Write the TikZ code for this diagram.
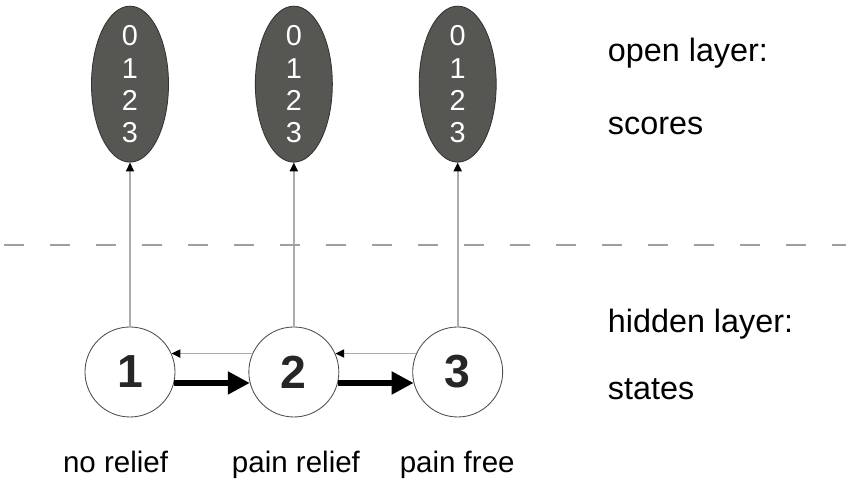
\documentclass[tikz,border=0pt]{standalone}
\usepackage{fontspec}
\setmainfont{Liberation Sans}
\usetikzlibrary{positioning,arrows.meta,shapes.geometric}

\definecolor{scorefill}{RGB}{86,86,82}

\begin{document}
\begin{tikzpicture}[
  every node/.style={font=\fontsize{23}{26}\selectfont},
  state/.style={circle, draw=black!70, line width=0.6pt, fill=white,
    minimum size=2.25cm, inner sep=0pt, font=\fontsize{33}{36}\selectfont\bfseries, text=black!85},
  score/.style={ellipse, draw=black!80, line width=0.6pt, fill=scorefill,
    minimum width=1.925cm, minimum height=3.9cm, inner sep=0pt},
  digits/.style={align=center, text=white, font=\fontsize{20.5}{22.8}\selectfont},
  emit/.style={-{Triangle[length=0.22cm, width=0.2cm, color=black]}, gray!65, line width=1.3pt},
  back/.style={-{Triangle[length=0.22cm, width=0.2cm, color=black]}, gray!65, line width=1.3pt},
  fwd/.style={-{Triangle[length=0.55cm, width=0.55cm]}, black, line width=3.6pt},
  caption/.style={anchor=base, font=\fontsize{21}{24}\selectfont},
  layer/.style={anchor=base west}
]
\useasboundingbox (0,0) rectangle (21.15,12.05);

% Hidden states
\node[state] (s1) at (3.25,2.75) {1};
\node[state, right=1.825cm of s1] (s2) {2};
\node[state, right=1.825cm of s2] (s3) {3};

% Observed scores
\node[score, above=4.1cm of s1, label={[digits]center:0\\1\\2\\3}] (o1) {};
\node[score, above=4.1cm of s2, label={[digits]center:0\\1\\2\\3}] (o2) {};
\node[score, above=4.1cm of s3, label={[digits]center:0\\1\\2\\3}] (o3) {};

% Emissions
\draw[emit] (s1) -- (o1);
\draw[emit] (s2) -- (o2);
\draw[emit] (s3) -- (o3);

% Transitions
\draw[fwd] (s1.-14) -- (s2.194);
\draw[fwd] (s2.-14) -- (s3.194);
\draw[back] (s2.156) -- (s1.24);
\draw[back] (s3.156) -- (s2.24);

% Layer separator
\draw[gray!75, line width=1.3pt, dash pattern=on 0.5cm off 0.65cm] (0.1,5.925) -- (21.15,5.925);

% State names
\node[caption] (n1) at (2.89,0.225) {no relief};
\node[caption] (n2) at (7.4,0.225) {pain relief};
\node[caption] (n3) at (11.43,0.225) {pain free};

% Layer labels
\node[layer] (open) at (15.075,10.5) {open layer:};
\node[layer] (scores) at (15.075,8.675) {scores};
\node[layer] (hidden) at (15.075,3.725) {hidden layer:};
\node[layer] (states) at (15.075,2.05) {states};

\end{tikzpicture}
\end{document}
